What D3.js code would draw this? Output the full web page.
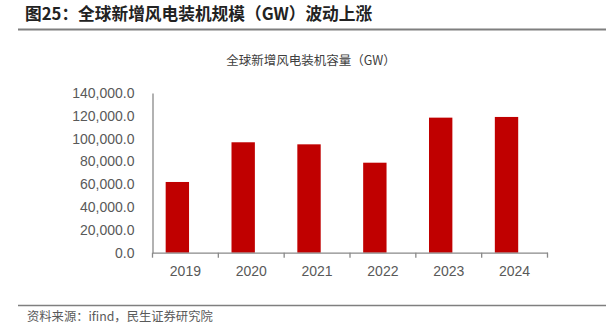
<!DOCTYPE html>
<html><head><meta charset="utf-8">
<script src="https://cdn.jsdelivr.net/npm/d3@7/dist/d3.min.js"></script>
<style>body{margin:0;background:#fff;}svg{display:block;}</style>
</head><body>
<svg id="c" width="616" height="330"></svg>
<script>
const categories = ["2019","2020","2021","2022","2023","2024"];
const values = [62000, 96800, 95000, 78900, 118400, 119000];
const yTicks = [0, 20000, 40000, 60000, 80000, 100000, 120000, 140000];
const titleText = "图25：全球新增风电装机规模（GW）波动上涨";
const chartTitle = "全球新增风电装机容量（GW）";
const sourceText = "资料来源：ifind，民生证券研究院";

const svg = d3.select("#c");
const cjk = "'Noto Sans CJK SC','Noto Sans',sans-serif";

svg.append("text").attr("x",25).attr("y",20).attr("font-family",cjk).attr("font-weight","bold")
  .attr("font-size",16.7).attr("fill","#222").text(titleText);
svg.append("line").attr("x1",18).attr("x2",606).attr("y1",29.5).attr("y2",29.5)
  .attr("stroke","#7f7f7f").attr("stroke-width",2);

svg.append("text").attr("x",311).attr("y",65).attr("text-anchor","middle").attr("font-family",cjk)
  .attr("font-size",12.5).attr("fill","#404040").text(chartTitle);

const x = d3.scaleBand().domain(categories).range([152.5, 547.5]).padding(0);
const y = d3.scaleLinear().domain([0,140000]).range([252.7, 93]);

const g = svg.append("g");
g.selectAll("rect").data(values).join("rect")
  .attr("x",(d,i)=>x(categories[i]) + x.bandwidth()*0.2)
  .attr("width",x.bandwidth()*0.355)
  .attr("y",d=>y(d)).attr("height",d=>y(0)-y(d))
  .attr("fill","#C00000");

const fmt = d3.format(",.1f");
const ya = svg.append("g").attr("transform","translate(152.5,0)")
  .call(d3.axisLeft(y).tickValues(yTicks).tickSize(0).tickPadding(18).tickFormat(fmt));
ya.select(".domain").attr("stroke","#898989").attr("stroke-width",1.3);
ya.selectAll("text").attr("font-family","'Liberation Sans',Arial,sans-serif").attr("font-size",14).attr("fill","#595959");

const xa = svg.append("g").attr("transform","translate(0,252.7)")
  .call(d3.axisBottom(x).tickSize(0).tickPadding(13));
xa.select(".domain").attr("stroke","#898989").attr("stroke-width",1.3);
xa.selectAll("text").attr("font-family","'Liberation Sans',Arial,sans-serif").attr("font-size",14).attr("fill","#595959");
xa.selectAll(".bnd").data(x.domain().map(c=>x(c)).concat([x.range()[1]])).join("line")
  .attr("x1",d=>d).attr("x2",d=>d).attr("y1",0).attr("y2",5).attr("stroke","#898989").attr("stroke-width",1.3);

svg.append("line").attr("x1",18).attr("x2",606).attr("y1",305.5).attr("y2",305.5)
  .attr("stroke","#7f7f7f").attr("stroke-width",1.5);
svg.append("text").attr("x",27).attr("y",321).attr("font-family",cjk)
  .attr("font-size",12.3).attr("fill","#595959").text(sourceText);
</script>
</body></html>
